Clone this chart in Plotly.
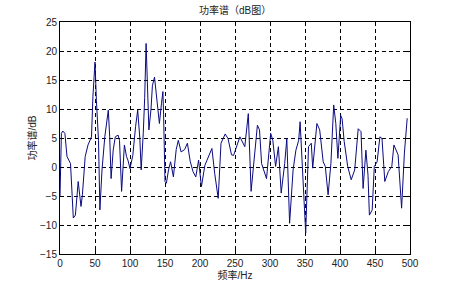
import plotly.graph_objects as go

freq = [0, 2, 4, 7, 10, 13, 15, 19, 22, 26, 30, 32, 36, 40, 45, 47, 50, 52, 55, 57,
        60, 64, 69, 71, 73, 76, 79, 83, 85, 88, 90, 92, 95, 97, 100, 104, 108, 111, 114, 116,
        119, 121, 123, 125, 127, 130, 132, 135, 138, 140, 142, 145, 147, 148, 150, 152, 155, 158, 162, 166,
        169, 173, 178, 182, 186, 190, 194, 198, 202, 207, 210, 217, 221, 226, 230, 236, 240, 245, 248, 253,
        257, 264, 269, 273, 278, 282, 285, 288, 295, 299, 301, 304, 308, 312, 316, 321, 324, 328, 333, 337,
        341, 343, 348, 351, 355, 359, 361, 367, 371, 376, 379, 383, 387, 391, 394, 397, 401, 403, 406, 411,
        416, 421, 426, 430, 433, 437, 440, 442, 446, 449, 453, 457, 460, 464, 469, 474, 477, 483, 488, 492, 496]
power = [-5.0, 5.8, 6.2, 5.8, 1.8, 1.0, 0.6, -8.8, -8.3, -2.5, -6.8, -4.8, 1.8, 3.8, 5.2, 12.1, 18.1, 11.5, 4.6, -7.4,
         -0.5, 5.2, 9.8, 5.2, -2.0, 2.9, 5.2, 5.5, 4.6, -4.2, 0.6, 3.8, 1.8, 1.2, -0.3, 2.0, 7.0, 9.8, 5.0, -0.5,
         6.0, 12.0, 21.3, 13.0, 6.4, 10.0, 14.0, 15.5, 12.0, 9.0, 7.5, 11.0, 13.0, 9.0, -2.5, -2.8, -0.5, 0.9, -1.7, 3.0,
         4.6, 2.6, 3.0, 4.1, 1.0, -0.8, -1.7, 1.2, -3.4, 0.3, 1.2, 3.2, -1.1, -5.4, 4.1, 5.7, 4.9, 2.1, 2.0, 3.8,
         5.2, 3.5, 9.2, -4.2, 1.8, 7.2, 6.4, 0.6, -2.0, 2.6, 5.8, 4.6, 0.1, 3.5, -4.5, 0.6, 4.9, -9.7, -0.5, 2.9,
         4.6, 7.8, -2.8, -11.4, 3.5, 4.1, -0.2, 7.5, 6.4, 0.9, 0.1, -4.8, 0.6, 10.7, 7.5, 1.5, 8.9, 8.3, 4.4, 0.1,
         -2.2, -0.5, 6.6, 6.1, -3.7, 2.9, -1.4, -8.3, -7.4, 0.1, 0.9, 5.2, 4.9, -2.5, -0.8, 0.1, 3.8, 2.1, -7.1, 2.4, 8.4]

x_ticks = [0, 50, 100, 150, 200, 250, 300, 350, 400, 450, 500]
y_ticks = [-15, -10, -5, 0, 5, 10, 15, 20, 25]

FONT = "Liberation Sans, Arial, Noto Sans CJK SC"

fig = go.Figure()
fig.add_trace(go.Scatter(x=freq, y=power, mode="lines",
                         line=dict(color="#0a0a80", width=1), showlegend=False))

axis_common = dict(
    showline=True, linecolor="black", linewidth=1, mirror="ticks",
    ticks="inside", ticklen=4, tickcolor="black",
    showgrid=True, gridcolor="black", gridwidth=1, griddash="4px,3px",
    zeroline=False, tickfont=dict(family=FONT, size=10, color="#222"),
)

fig.update_xaxes(range=[0, 500], tickvals=x_ticks, **axis_common,
                 title=dict(text="频率/Hz", font=dict(family=FONT, size=10, color="#222"), standoff=2))
fig.update_yaxes(range=[-15, 25], tickvals=y_ticks, **axis_common,
                 title=dict(text="功率谱/dB", font=dict(family=FONT, size=10, color="#222"), standoff=1))

fig.update_layout(
    width=454, height=287,
    margin=dict(l=60, r=44, t=22, b=33, autoexpand=False),
    paper_bgcolor="white", plot_bgcolor="white",
    title=dict(text="功率谱（dB图）", x=0.518, xanchor="center", y=0.962, yanchor="middle",
               font=dict(family=FONT, size=10, color="#222")),
)

fig.write_html("out.html")
